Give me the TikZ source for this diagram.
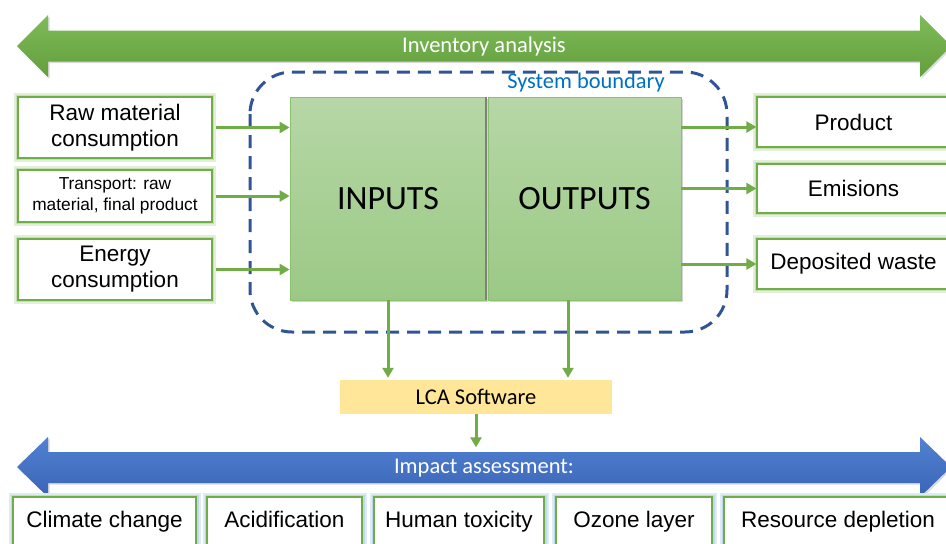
\documentclass[tikz,border=0pt]{standalone}
\usepackage{fontspec}
\setmainfont{Liberation Sans}
\newfontfamily\calibri{Carlito}
\usetikzlibrary{arrows.meta,shadows}

\definecolor{lcagreen}{RGB}{112,173,71}
\definecolor{glowgreen}{RGB}{197,224,180}
\definecolor{glowgreenlt}{RGB}{226,240,217}
\definecolor{glowblue}{RGB}{189,215,238}
\definecolor{glowbluelt}{RGB}{222,235,247}
\definecolor{boundblue}{RGB}{47,85,151}
\definecolor{labelblue}{RGB}{0,112,192}
\definecolor{lcayellow}{RGB}{255,230,153}

\tikzset{
  inbox/.style={rectangle, draw=lcagreen, line width=1.3pt, fill=white, inner sep=0pt, align=center,
    font=\fontsize{22.5}{26}\selectfont,
    preaction={draw=glowgreenlt, line width=8pt},
    preaction={draw=glowgreen, line width=4.5pt}},
  impactbox/.style={rectangle, draw=lcagreen, line width=1.3pt, fill=white, inner sep=0pt, align=center,
    minimum height=50pt, text height=16pt, text depth=5pt, font=\fontsize{22.5}{26}\selectfont,
    preaction={draw=glowbluelt, line width=9pt},
    preaction={draw=glowblue, line width=5pt}},
  iobox/.style={rectangle, draw={rgb,255:red,140;green,192;blue,113}, line width=0.8pt,
    top color={rgb,255:red,182;green,215;blue,166}, bottom color={rgb,255:red,155;green,201;blue,133},
    inner sep=0pt, minimum height=203pt, font=\calibri\fontsize{34}{36}\selectfont,
    drop shadow={shadow xshift=2pt, shadow yshift=-2pt, opacity=0.35}},
  flow/.style={draw=lcagreen, line width=3pt, -{Triangle[length=10pt,width=11pt]}},
  bandlabel/.style={inner sep=0pt, text=white, font=\calibri\fontsize{22.5}{26}\selectfont}
}

\begin{document}
\begin{tikzpicture}[x=1pt,y=1pt,yscale=-1,xscale=1]
\useasboundingbox (0,0) rectangle (946,544);

%Shape: Double Arrow (inventory)
\shade [top color={rgb,255:red,128;green,187;blue,90}, bottom color={rgb,255:red,98;green,158;blue,60},
  drop shadow={shadow xshift=1.5pt, shadow yshift=-1.5pt, opacity=0.3}]
  (17,46) -- (48,15) -- (48,30.5) -- (920,30.5) -- (920,15) -- (951,46) -- (920,77)
  -- (920,61.5) -- (48,61.5) -- (48,77) -- cycle ;
% Text Node
\node (inventory) [bandlabel] at (484,46.5) {Inventory analysis};

%Shape: Rounded Rect (system boundary)
\draw [color=boundblue, line width=3pt, dash pattern=on 13pt off 8pt, rounded corners=42pt]
  (250,72) rectangle (727,332) ;
% Text Node
\node (boundary) [inner sep=0pt, text=labelblue, font=\calibri\fontsize{22.4}{26}\selectfont] at (586,82.5) {System boundary};

% INPUTS / OUTPUTS
\node (inputs) [iobox, minimum width=196pt] at (388,198.5) {INPUTS};
\node (outputs) [iobox, minimum width=193pt] at (584.5,198.5) {OUTPUTS};
\draw [color={rgb,255:red,127;green,127;blue,127}, line width=2pt] (inputs.north east) -- (inputs.south east) ;

% input boxes
\node (raw) [inbox, minimum width=194pt, minimum height=61pt] at (115,127.5) {Raw material\\consumption};
\node (transport) [inbox, minimum width=194pt, minimum height=52pt, font=\fontsize{17.3}{21}\selectfont] at (115,196) {Transport: raw\\material, final product};
\node (energy) [inbox, minimum width=194pt, minimum height=61pt] at (115,269.5) {Energy\\consumption};

% output boxes
\node (product) [inbox, minimum width=193pt, minimum height=50pt] at (853.5,122) {Product};
\node (emisions) [inbox, minimum width=193pt, minimum height=49pt] at (853.5,188.5) {Emisions};
\node (waste) [inbox, minimum width=193pt, minimum height=50pt] at (853.5,264) {Deposited waste};

% LCA software
\node (software) [rectangle, fill=lcayellow, inner sep=0pt, minimum width=272pt, minimum height=34pt,
  font=\calibri\fontsize{22.5}{26}\selectfont] at (476,397) {LCA Software};

%Straight Lines
\draw [flow, shorten <=3pt] (raw) -- (raw -| inputs.west) ;
\draw [flow, shorten <=3pt] (transport) -- (transport -| inputs.west) ;
\draw [flow, shorten <=3pt] (energy) -- (energy -| inputs.west) ;
\draw [flow] ([yshift=5pt]product.west -| outputs.east) -- ([yshift=5pt]product.west) ;
\draw [flow] (emisions -| outputs.east) -- (emisions.west) ;
\draw [flow] (waste -| outputs.east) -- (waste.west) ;
\draw [flow, shorten >=2pt] (inputs.south) -- (inputs.south |- software.north) ;
\draw [flow, shorten >=2pt] ([xshift=-16.5pt]outputs.south) -- ([xshift=-16.5pt]outputs.south |- software.north) ;

%Shape: Double Arrow (impact)
\shade [top color={rgb,255:red,82;green,130;blue,210}, bottom color={rgb,255:red,58;green,100;blue,182},
  drop shadow={shadow xshift=1.5pt, shadow yshift=-1.5pt, opacity=0.3}]
  (17,467) -- (48,437) -- (48,452) -- (920,452) -- (920,437) -- (951,467) -- (920,497)
  -- (920,483) -- (48,483) -- (48,497) -- cycle ;
% Text Node
\node (impact) [bandlabel, minimum height=31pt] at (484,468) {Impact assessment:};
\draw [flow, shorten >=5pt] (software.south) -- (software.south |- impact.north) ;

% impact categories
\node (climate) [impactbox, minimum width=183pt] at (104.5,522) {Climate change};
\node (acid) [impactbox, minimum width=155pt] at (284.5,522) {Acidification};
\node (toxicity) [impactbox, minimum width=170pt] at (459,522) {Human toxicity};
\node (ozone) [impactbox, minimum width=156pt] at (634,522) {Ozone layer};
\node (depletion) [impactbox, minimum width=228pt] at (838,522) {Resource depletion};

\end{tikzpicture}
\end{document}
